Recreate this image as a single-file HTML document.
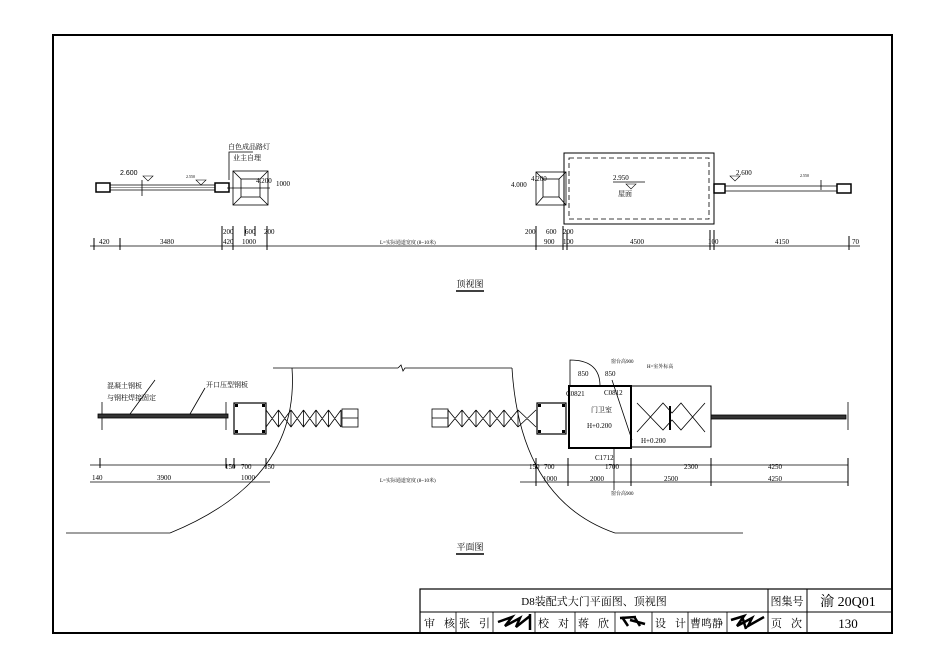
<!DOCTYPE html>
<html><head><meta charset="utf-8"><style>
html,body{margin:0;padding:0;background:#fff}
svg{display:block}
text{font-family:"Liberation Serif","Noto Serif CJK SC",serif;fill:#000}
.s{font-family:"Liberation Sans","Noto Sans CJK SC",sans-serif;font-size:7px}
</style></head><body>
<svg width="945" height="665" viewBox="0 0 945 665" xmlns="http://www.w3.org/2000/svg" stroke="#000" fill="none">
<rect x="53" y="35" width="839" height="598" stroke-width="2"/>
<!-- title block -->
<rect x="420" y="589" width="472" height="44" stroke-width="1.2"/>
<line x1="420" y1="612" x2="892" y2="612"/>
<line x1="768" y1="589" x2="768" y2="633"/>
<line x1="807" y1="589" x2="807" y2="633"/>
<g stroke-width="0.8">
<line x1="456" y1="612" x2="456" y2="633"/><line x1="493" y1="612" x2="493" y2="633"/>
<line x1="535" y1="612" x2="535" y2="633"/><line x1="575" y1="612" x2="575" y2="633"/>
<line x1="615" y1="612" x2="615" y2="633"/><line x1="652" y1="612" x2="652" y2="633"/>
<line x1="688" y1="612" x2="688" y2="633"/><line x1="727" y1="612" x2="727" y2="633"/>
</g>
<g stroke="none" font-size="11">
<text x="594" y="605" text-anchor="middle">D8装配式大门平面图、顶视图</text>
<text x="787" y="605" text-anchor="middle">图集号</text>
<text x="848" y="606" text-anchor="middle" font-size="14">渝 20Q01</text>
<text x="424" y="627" letter-spacing="9">审核</text>
<text x="459" y="627" letter-spacing="9">张引</text>
<text x="538" y="627" letter-spacing="9">校对</text>
<text x="578" y="627" letter-spacing="9">蒋欣</text>
<text x="655" y="627" letter-spacing="9">设计</text>
<text x="690" y="627">曹鸣静</text>
<text x="771" y="627" letter-spacing="9">页次</text>
<text x="848" y="628" text-anchor="middle" font-size="13">130</text>
</g>
<g stroke-width="2.5" stroke="#000">
<path d="M498 622 L512 617 L505 626 L520 618 L516 627 L530 616 M530 614 L530 630"/>
<path d="M622 617 L628 626 M620 618 L636 617 M630 620 L645 624 M635 618 L640 626"/>
<path d="M731 620 L744 616 L737 626 L752 618 L748 626 L764 617 M742 616 L746 629"/>
</g>
<!-- ===== TOP VIEW ===== -->
<g stroke-width="0.8">
<line x1="90" y1="246" x2="860" y2="246"/>
<g stroke-width="1">
<line x1="94" y1="238" x2="94" y2="250"/><line x1="120" y1="238" x2="120" y2="250"/><line x1="222" y1="226" x2="222" y2="250"/>
<line x1="233" y1="226" x2="233" y2="250"/><line x1="267" y1="226" x2="267" y2="250"/><line x1="245" y1="226" x2="245" y2="236"/><line x1="255" y1="226" x2="255" y2="236"/>
<line x1="536" y1="226" x2="536" y2="250"/><line x1="563" y1="226" x2="563" y2="250"/><line x1="567" y1="230" x2="567" y2="250"/>
<line x1="710" y1="230" x2="710" y2="250"/><line x1="714" y1="230" x2="714" y2="250"/><line x1="849" y1="236" x2="849" y2="250"/>
</g>
<!-- left rail -->
<rect x="96" y="183" width="14" height="9" stroke-width="1.5"/><rect x="215" y="183" width="14" height="9" stroke-width="1.5"/>
<line x1="110" y1="185" x2="215" y2="185"/><line x1="110" y1="190" x2="215" y2="190"/><line x1="110" y1="187.5" x2="215" y2="187.5" stroke-width="0.4"/>
<line x1="142" y1="180" x2="142" y2="196"/>
<!-- left column top -->
<rect x="233" y="171" width="35" height="34"/><rect x="241" y="179" width="19" height="18"/>
<line x1="233" y1="171" x2="241" y2="179"/><line x1="268" y1="171" x2="260" y2="179"/><line x1="233" y1="205" x2="241" y2="197"/><line x1="268" y1="205" x2="260" y2="197"/>
<line x1="227" y1="188" x2="270" y2="188"/>
<polyline points="229,180 229,152 253,152"/>
<!-- right building -->
<rect x="564" y="153" width="150" height="71" stroke-width="1"/>
<rect x="569" y="158" width="140" height="61" stroke-dasharray="5,3"/>
<rect x="536" y="172" width="30" height="33"/><rect x="543" y="179" width="16" height="18"/>
<line x1="536" y1="172" x2="543" y2="179"/><line x1="566" y1="172" x2="559" y2="179"/><line x1="536" y1="205" x2="543" y2="197"/><line x1="566" y1="205" x2="559" y2="197"/>
<line x1="613" y1="182" x2="645" y2="182"/>
<!-- right rail -->
<rect x="714" y="184" width="11" height="9" stroke-width="1.5"/><rect x="837" y="184" width="14" height="9" stroke-width="1.5"/>
<line x1="725" y1="186" x2="837" y2="186"/><line x1="725" y1="191" x2="837" y2="191"/>
<line x1="821" y1="180" x2="821" y2="190"/>
</g>
<g stroke="none" class="s">
<text x="120" y="175" class="s">2.600</text><text x="186" y="178" font-size="4">2.550</text>
<text x="228" y="149">白色成品路灯</text><text x="233" y="160">业主自理</text>
<text x="256" y="183">4.200</text><text x="276" y="186">1000</text>
<text x="613" y="180">2.950</text><text x="618" y="196">屋面</text>
<text x="511" y="187">4.000</text><text x="531" y="181">4.200</text>
<text x="736" y="175">2.600</text><text x="800" y="177" font-size="4">2.550</text>
<text x="99" y="244">420</text><text x="160" y="244">3480</text><text x="223" y="244">420</text><text x="242" y="244">1000</text>
<text x="223" y="234">200</text><text x="245" y="234">600</text><text x="264" y="234">200</text>
<text x="380" y="244" font-size="5">L=实际通道宽度 (8~10米)</text>
<text x="544" y="244">900</text><text x="563" y="244">100</text><text x="630" y="244">4500</text><text x="708" y="244">100</text><text x="775" y="244">4150</text><text x="852" y="244">70</text>
<text x="525" y="234">200</text><text x="546" y="234">600</text><text x="563" y="234">200</text>
</g>
<g stroke-width="0.6">
<path d="M196 180 L206 180 L201 185Z"/>
<path d="M143 176 L153 176 L148 181Z"/>
<path d="M626 184 L636 184 L631 189Z"/>
<path d="M730 176 L740 176 L735 181Z"/>
</g>
<text x="470" y="287" font-size="9" stroke="none" text-anchor="middle" font-family="Liberation Sans,Noto Sans CJK SC,sans-serif">顶视图</text>
<line x1="456" y1="291" x2="484" y2="291" stroke-width="1.5"/>
<!-- ===== PLAN VIEW ===== -->
<g stroke-width="0.8">
<line x1="273" y1="368" x2="398" y2="368"/><path d="M398 368 L401 365 L403 371 L405 368 L512 368"/>
<path d="M292 368 Q300 480 170 533"/><line x1="66" y1="533" x2="170" y2="533"/>
<path d="M512 368 Q520 500 615 533"/><line x1="615" y1="533" x2="743" y2="533"/>
<line x1="90" y1="465" x2="848" y2="465"/><line x1="520" y1="482" x2="848" y2="482"/><line x1="90" y1="482" x2="270" y2="482"/>
<g stroke-width="1">
<line x1="100" y1="458" x2="100" y2="468"/><line x1="226" y1="458" x2="226" y2="468"/><line x1="234" y1="458" x2="234" y2="468"/><line x1="266" y1="458" x2="266" y2="468"/>
<line x1="536" y1="458" x2="536" y2="486"/><line x1="568" y1="458" x2="568" y2="486"/><line x1="631" y1="458" x2="631" y2="486"/><line x1="711" y1="458" x2="711" y2="486"/><line x1="848" y1="458" x2="848" y2="486"/>
</g>
<line x1="102" y1="402" x2="102" y2="430"/><line x1="226" y1="402" x2="226" y2="430"/>
<!-- left rail -->
<rect x="98" y="414" width="130" height="4" fill="#333"/>
<rect x="234" y="403" width="32" height="31" stroke-width="1.2"/>
<g fill="#000" stroke="none"><rect x="235" y="404" width="3" height="3"/><rect x="262" y="404" width="3" height="3"/><rect x="235" y="430" width="3" height="3"/><rect x="262" y="430" width="3" height="3"/>
<rect x="538" y="404" width="3" height="3"/><rect x="562" y="404" width="3" height="3"/><rect x="538" y="430" width="3" height="3"/><rect x="562" y="430" width="3" height="3"/></g>
<path d="M266 410 L278.5 427 M266 427 L278.5 410 M278.5 410 L291 427 M278.5 427 L291 410 M291 410 L303.5 427 M291 427 L303.5 410 M303.5 410 L316 427 M303.5 427 L316 410 M316 410 L328.5 427 M316 427 L328.5 410 M328.5 410 L341 427 M328.5 427 L341 410 M266 410 L266 427 M278.5 410 L278.5 427 M291 410 L291 427 M303.5 410 L303.5 427 M316 410 L316 427 M328.5 410 L328.5 427 M341 410 L341 427"/>
<rect x="342" y="409" width="16" height="18"/><line x1="342" y1="418" x2="358" y2="418"/>
<rect x="432" y="409" width="16" height="18"/><line x1="432" y1="418" x2="448" y2="418"/>
<path d="M448 410 L462 427 M448 427 L462 410 M462 410 L476 427 M462 427 L476 410 M476 410 L490 427 M476 427 L490 410 M490 410 L504 427 M490 427 L504 410 M504 410 L518 427 M504 427 L518 410 M518 410 L536 427 M518 427 L536 410 M448 410 L448 427 M462 410 L462 427 M476 410 L476 427 M490 410 L490 427 M504 410 L504 427 M518 410 L518 427"/>
<rect x="537" y="403" width="29" height="31" stroke-width="1.2"/>
<rect x="569" y="386" width="62" height="62" stroke-width="2"/>
<rect x="631" y="386" width="80" height="61" stroke-width="1"/>
<path d="M637 403 L663 430 L672 420 L681 430 L705 403 M637 432 L663 403 L672 413 L681 403 L705 432"/>
<line x1="670" y1="406" x2="670" y2="430" stroke-width="2"/>
<path d="M570 386 L570 360 Q600 360 600 386"/>
<rect x="711" y="415" width="135" height="4" fill="#333"/>
<line x1="848" y1="402" x2="848" y2="430"/>
<line x1="612" y1="380" x2="632" y2="440"/>
<line x1="614" y1="448" x2="614" y2="490"/>
<line x1="130" y1="414" x2="155" y2="380"/><line x1="190" y1="414" x2="205" y2="388"/>
</g>
<g stroke="none" class="s">
<text x="107" y="388">混凝土钢板</text><text x="107" y="400">与钢柱焊接固定</text><text x="206" y="387">开口压型钢板</text>
<text x="380" y="482" font-size="5">L=实际通道宽度 (8~10米)</text>
<text x="92" y="480">140</text><text x="157" y="480">3900</text><text x="241" y="480">1000</text>
<text x="225" y="469">150</text><text x="241" y="469">700</text><text x="264" y="469">150</text>
<text x="529" y="469">150</text><text x="544" y="469">700</text><text x="605" y="469">1700</text><text x="684" y="469">2300</text><text x="768" y="469">4250</text>
<text x="543" y="481">1000</text><text x="590" y="481">2000</text><text x="664" y="481">2500</text><text x="768" y="481">4250</text>
<text x="591" y="412">门卫室</text><text x="587" y="428">H+0.200</text><text x="641" y="443">H+0.200</text>
<text x="566" y="396">C0821</text><text x="604" y="395">C0812</text><text x="595" y="460">C1712</text>
<text x="578" y="376">850</text><text x="605" y="376">850</text><text x="611" y="363" font-size="5">窗台高900</text><text x="647" y="368" font-size="5">H=室外标高</text>
<text x="611" y="495" font-size="5">窗台高900</text>
</g>
<text x="470" y="550" font-size="9" stroke="none" text-anchor="middle" font-family="Liberation Sans,Noto Sans CJK SC,sans-serif">平面图</text>
<line x1="456" y1="554" x2="484" y2="554" stroke-width="1.5"/>
</svg>
</body></html>
